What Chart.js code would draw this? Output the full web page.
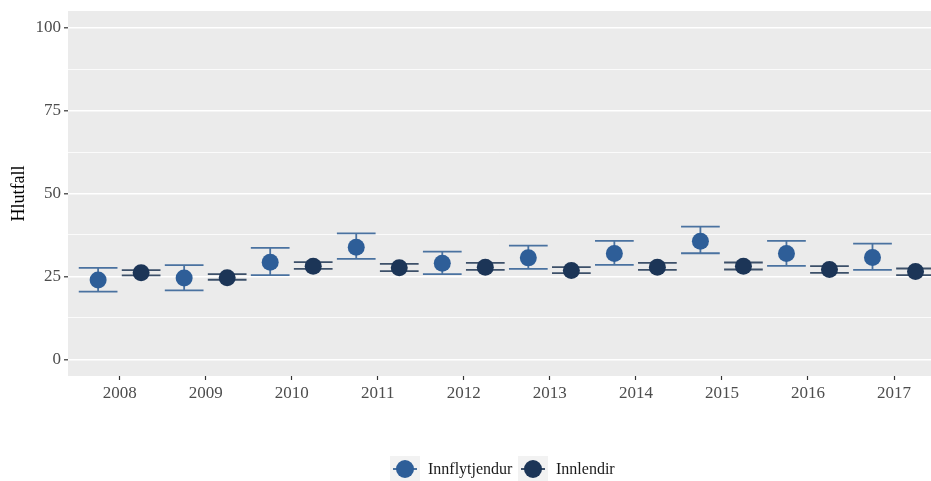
<!DOCTYPE html>
<html><head><meta charset="utf-8">
<script src="https://cdn.jsdelivr.net/npm/chart.js@4/dist/chart.umd.min.js"></script>
<style>
html,body{margin:0;padding:0;background:#fff;}
#wrap{position:relative;width:931px;height:481px;overflow:hidden;}
#c{position:absolute;left:0;top:0;}
.lg{position:absolute;top:456px;height:26px;font-family:"Liberation Serif",serif;font-size:16px;color:#1a1a1a;}
.key{position:absolute;width:30px;height:26px;background:#f2f2f2;}
.key .ln{position:absolute;left:3px;right:3px;top:12px;height:2px;}
.key .pt{position:absolute;left:6px;top:4px;width:18px;height:18px;border-radius:50%;}
.txt{position:absolute;top:4px;white-space:nowrap;line-height:18px;}
</style></head>
<body>
<div id="wrap">
<canvas id="c" width="931" height="481"></canvas>
<div class="lg" style="left:390px;">
  <div class="key" style="left:0"><div class="ln" style="background:#4a72a0"></div><div class="pt" style="background:#2e5e98"></div></div>
  <div class="txt" style="left:38px">Innflytjendur</div>
  <div class="key" style="left:128px"><div class="ln" style="background:#3d5069"></div><div class="pt" style="background:#1c3557"></div></div>
  <div class="txt" style="left:166px">Innlendir</div>
</div>
</div>
<script>
const years = ['2008','2009','2010','2011','2012','2013','2014','2015','2016','2017'];
const innflytjendur      = [23.9, 24.5, 29.3, 33.8, 29.0, 30.6, 31.9, 35.6, 31.9, 30.7];
const innflytjendurLower = [20.4, 20.8, 25.4, 30.3, 25.7, 27.3, 28.5, 32.0, 28.2, 27.0];
const innflytjendurUpper = [27.6, 28.4, 33.6, 38.0, 32.5, 34.3, 35.7, 40.0, 35.7, 34.9];
const innlendir      = [26.1, 24.6, 28.1, 27.6, 27.8, 26.8, 27.8, 28.1, 27.1, 26.5];
const innlendirLower = [25.3, 24.0, 27.3, 26.6, 27.0, 26.0, 27.0, 27.1, 26.1, 25.4];
const innlendirUpper = [26.9, 25.7, 29.3, 28.8, 29.1, 27.8, 29.1, 29.2, 28.1, 27.4];
const yMajorTicks = [0, 25, 50, 75, 100];
const yMinorTicks = [12.5, 37.5, 62.5, 87.5];

const DODGE = 0.25, CAP = 0.225;

function pts(vals, off){ return vals.map((v,i)=>({x:i+off, y:v})); }

const panelBg = {
  id:'panelBg',
  beforeDraw(chart){
    const {ctx, chartArea:a} = chart;
    ctx.save(); ctx.fillStyle='#ebebeb';
    ctx.fillRect(a.left, a.top, a.right-a.left, a.bottom-a.top);
    ctx.restore();
  }
};
const errorBars = {
  id:'errorBars',
  beforeDatasetsDraw(chart){
    const {ctx, chartArea:a, scales:{x,y}} = chart;
    ctx.save();
    ctx.beginPath(); ctx.rect(a.left, a.top, a.right-a.left, a.bottom-a.top); ctx.clip();
    chart.data.datasets.forEach(ds=>{
      ctx.strokeStyle = ds.errColor; ctx.lineWidth = 1.8;
      ds.data.forEach((p,i)=>{
        const lo = y.getPixelForValue(ds.errLow[i]), hi = y.getPixelForValue(ds.errHigh[i]);
        const xc = x.getPixelForValue(p.x), xl = x.getPixelForValue(p.x-CAP), xr = x.getPixelForValue(p.x+CAP);
        ctx.beginPath();
        ctx.moveTo(xl, lo); ctx.lineTo(xr, lo);
        ctx.moveTo(xl, hi); ctx.lineTo(xr, hi);
        ctx.moveTo(xc, lo); ctx.lineTo(xc, hi);
        ctx.stroke();
      });
    });
    ctx.restore();
  }
};

new Chart(document.getElementById('c'), {
  type:'scatter',
  data:{datasets:[
    {label:'Innflytjendur', data:pts(innflytjendur,-DODGE), errLow:innflytjendurLower, errHigh:innflytjendurUpper,
     errColor:'#4a72a0', backgroundColor:'#2e5e98', borderWidth:0, pointRadius:8.5, pointHoverRadius:8.5},
    {label:'Innlendir', data:pts(innlendir,DODGE), errLow:innlendirLower, errHigh:innlendirUpper,
     errColor:'#3d5069', backgroundColor:'#1c3557', borderWidth:0, pointRadius:8.5, pointHoverRadius:8.5}
  ]},
  options:{
    responsive:false, animation:false,
    layout:{autoPadding:false, padding:{top:11,right:0,left:0,bottom:0}},
    plugins:{legend:{display:false}, tooltip:{enabled:false}},
    scales:{
      x:{type:'linear', min:-0.6, max:9.43,
        afterBuildTicks(s){ s.ticks = years.map((_,i)=>({value:i})); },
        afterFit(s){ s.height = 105; s.paddingLeft = 0; s.paddingRight = 0; },
        border:{display:false},
        grid:{drawOnChartArea:false, drawTicks:true, tickLength:4, tickColor:'#333', tickWidth:1.2},
        ticks:{autoSkip:false, maxRotation:0, padding:3, color:'#4d4d4d',
          font:{family:'Liberation Serif', size:17},
          callback:(v,i)=>years[i]}
      },
      y:{min:-5, max:105,
        afterBuildTicks(s){ s.ticks = [...yMajorTicks, ...yMinorTicks].sort((a,b)=>a-b).map(v=>({value:v})); },
        afterFit(s){ s.width = 68; s.paddingTop = 0; s.paddingBottom = 0; },
        border:{display:false},
        grid:{color:'#ffffff', lineWidth:c=>yMajorTicks.includes(c.tick.value)?1.6:0.8,
          drawTicks:true, tickLength:4, tickWidth:1.2,
          tickColor:c=>yMajorTicks.includes(c.tick.value)?'#333':'rgba(0,0,0,0)'},
        ticks:{padding:3, color:'#4d4d4d', font:{family:'Liberation Serif', size:17},
          callback:v=>yMajorTicks.includes(v)?String(v):''},
        title:{display:true, text:'Hlutfall', color:'#000', font:{family:'Liberation Serif', size:18}, padding:{top:8,bottom:0}}
      }
    }
  },
  plugins:[panelBg, errorBars]
});
</script>
</body></html>
